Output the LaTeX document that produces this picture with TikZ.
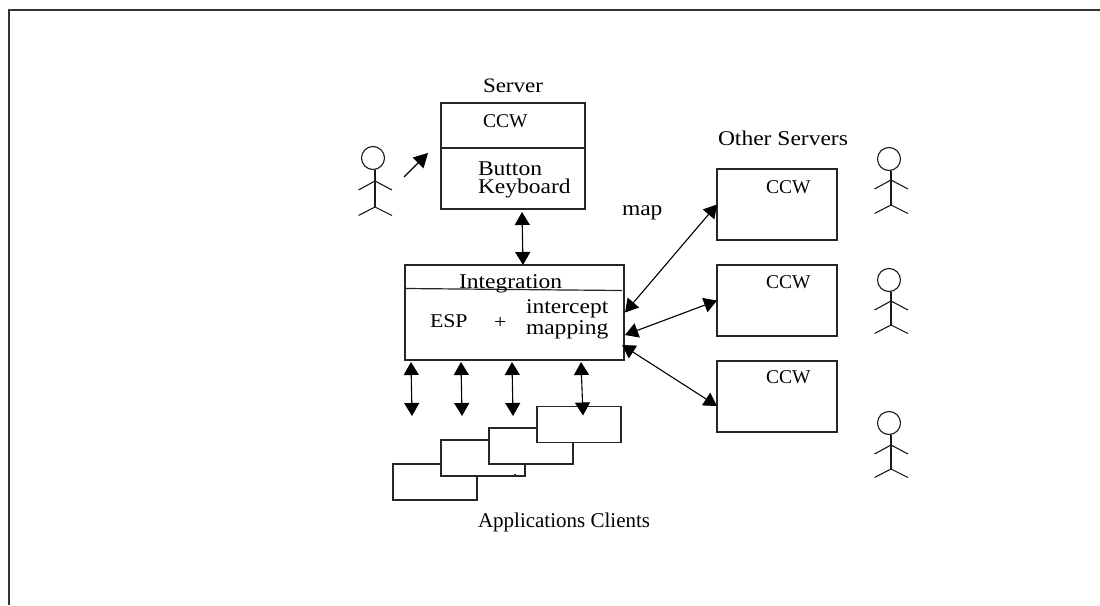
\documentclass[tikz,border=0pt]{standalone}
\usepackage{fontspec}
\usetikzlibrary{arrows.meta}
\setmainfont{Liberation Serif}
\newfontfamily\nyfont[FakeStretch=1.12]{Liberation Serif}
\newcommand{\actorfig}[4]{%
  \draw[figline] (#1-2,#2) circle[radius=11.5];
  \draw[figline] (#1,#2+12) -- (#1,#4);
  \draw[figline] (#1-16.5,#3+9) -- (#1,#3) -- (#1+17,#3+9);
  \draw[figline] (#1-16.5,#4+8.5) -- (#1,#4) -- (#1+17,#4+8.5);
}
\tikzset{
  x=1pt,y=-1pt,
  figline/.style={line width=1.1pt,black!90},
  boxnode/.style={draw=black!85,line width=1.2pt,rectangle,inner sep=0,outer sep=0,fill=white},
  txt/.style={anchor=base west,inner sep=0,outer sep=0,font=\nyfont\fontsize{21}{21}\selectfont},
  capstxt/.style={anchor=base west,inner sep=0,outer sep=0,font=\nyfont\fontsize{19.5}{19.5}\selectfont},
  ccwtxt/.style={anchor=base west,inner sep=0,outer sep=0,font=\fontsize{19.5}{19.5}\selectfont},
  plain/.style={anchor=base west,inner sep=0,outer sep=0,font=\fontsize{21}{21}\selectfont},
  conn/.style={line width=1.1pt,{Triangle[length=13pt,width=15pt]}-{Triangle[length=13pt,width=15pt]}},
  oneway/.style={line width=1.1pt,-{Triangle[length=14pt,width=15pt]}},
}
\begin{document}
\begin{tikzpicture}
\useasboundingbox (0,0) rectangle (1100,605);
\clip (0,0) rectangle (1100,605);
\draw[line width=1.3pt,black!80] (1100,10) -- (9,10) -- (9,605);

% server
\node[boxnode,minimum width=144pt,minimum height=106pt] (srv) at (513,156) {};
\draw[boxnode] (srv.west |- 0,148) coordinate (srvl) -- (srv.east |- 0,148) coordinate (srvr);
% integration
\node[boxnode,minimum width=219pt,minimum height=95pt] (integ) at (514.5,312.5) {};
\draw[line width=1.2pt,black!85] ([yshift=-23.5pt]integ.north west) -- ([xshift=-2pt,yshift=-25.5pt]integ.north east);
% other servers
\node[boxnode,minimum width=120pt,minimum height=71pt] (oa) at (777,204.5) {};
\node[boxnode,minimum width=120pt,minimum height=71pt] (ob) at (777,300.5) {};
\node[boxnode,minimum width=120pt,minimum height=71pt] (oc) at (777,396.5) {};
% clients
\node[boxnode,minimum width=84pt,minimum height=36pt] (ca) at (435,482) {};
\node[boxnode,minimum width=84pt,minimum height=36pt] (cb) at (483,458) {};
\node[boxnode,minimum width=84pt,minimum height=36pt] (cc) at (531,446) {};
\node[boxnode,minimum width=84pt,minimum height=36pt] (cd) at (579,424.5) {};
\fill (515,474.5) circle[radius=0.8];

% labels
\node[capstxt] (tserver) at (483,92) {\fontsize{20.5}{20.5}\selectfont Server};
\node[ccwtxt] (tccw) at (483,127) {CCW};
\node[txt] (tbutton) at (478,175) {Button};
\node[txt] (tkey) at (478,193) {Keyboard};
\node[txt] (tmap) at (622,215) {map};
\node[txt] (tother) at (718,145) {Other Servers};
\node[ccwtxt] (tcb1) at (766,193) {CCW};
\node[ccwtxt] (tcb2) at (766,288) {CCW};
\node[ccwtxt] (tcb3) at (766,383) {CCW};
\node[txt] (tint) at (459,288) {Integration};
\node[capstxt] (tesp) at (430,327) {ESP};
\node[capstxt] (tplus) at (494,328) {+};
\node[txt] (tinter) at (526,313) {intercept};
\node[txt] (tmapg) at (526,334) {mapping};
\node[plain] (tapp) at (478,527) {Applications Clients};

% actors
\actorfig{375}{158}{181}{207}
\actorfig{891}{159}{180}{205}
\actorfig{891}{280}{301}{325}
\actorfig{891}{423}{445}{469}

% connectors
\coordinate (ahand) at (404,177);
\coordinate (asrv) at (428,153);
\draw[oneway] (ahand) -- (asrv);
\draw[conn] ([xshift=9pt,yshift=-3pt]srv.south) -- ([xshift=8.5pt]integ.north);
\draw[conn] ([xshift=1pt]integ.east) -- (oa.west);
\draw[conn] ([xshift=1pt,yshift=-22.5pt]integ.east) -- (ob.west);
\draw[conn] ([xshift=-2pt,yshift=-32.5pt]integ.east) -- ([yshift=-9.5pt]oc.west);
\coordinate (da) at (412,416);
\coordinate (db) at (462,416);
\coordinate (dc) at (513,416);
\draw[conn] ([xshift=-103.5pt,yshift=-2pt]integ.south) -- (da);
\draw[conn] ([xshift=-53.5pt,yshift=-2pt]integ.south) -- (db);
\draw[conn] ([xshift=-2.5pt,yshift=-2pt]integ.south) -- (dc);
\draw[conn] ([xshift=66.5pt,yshift=-2pt]integ.south) -- ([xshift=4pt,yshift=-9pt]cd.north);
\end{tikzpicture}
\end{document}
